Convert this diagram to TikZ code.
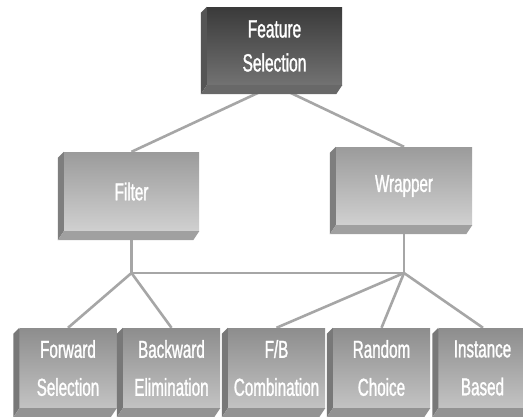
\documentclass[tikz,border=0pt]{standalone}
\usepackage{fontspec}
\setmainfont{Liberation Sans}[FakeStretch=0.62,FakeBold=1.2]
\usetikzlibrary{calc,backgrounds}
\definecolor{linegray}{HTML}{A6A6A6}
\definecolor{darkTop}{HTML}{3A3A3A}
\definecolor{darkBot}{HTML}{727272}
\definecolor{darkSide}{HTML}{555555}
\definecolor{darkStrip}{HTML}{686868}
\definecolor{midTop}{HTML}{9B9B9B}
\definecolor{midBot}{HTML}{D0D0D0}
\definecolor{midSide}{HTML}{7E7E7E}
\definecolor{midStrip}{HTML}{A0A0A0}
\definecolor{lowTop}{HTML}{8D8D8D}
\definecolor{lowBot}{HTML}{C3C3C3}
\definecolor{lowSide}{HTML}{787878}
\definecolor{lowStrip}{HTML}{939393}
\newcommand\boxsides[3]{%
  \fill[#2] (#1.north west) -- ++(-6,6) -- ($(#1.south west)+(-6,9)$) -- (#1.south west) -- cycle;
  \fill[#3] (#1.south west) -- ($(#1.south west)+(-6,9)$) -- ($(#1.south east)+(-6,9)$) -- (#1.south east) -- cycle;}
\begin{document}
\begin{tikzpicture}[x=1pt,y=-1pt,
  conn/.style={draw=linegray,line width=2.6pt},
  face/.style={rectangle,inner sep=0pt,text=white,align=center,font=\fontsize{24.5}{38}\selectfont},
  darkface/.style={face,top color=darkTop,bottom color=darkBot,minimum width=135pt,minimum height=78pt,font=\fontsize{25}{34}\selectfont},
  midface/.style={face,top color=midTop,bottom color=midBot,minimum width=135pt,minimum height=79pt},
  lowface/.style={face,top color=lowTop,bottom color=lowBot,minimum width=97pt,minimum height=80pt}]
\useasboundingbox (0,0) rectangle (523,416);
\clip (0,0) rectangle (523,416);

\node[darkface] (fs) at (274.5,46) {Feature\\Selection};
\boxsides{fs}{darkSide}{darkStrip}

\node[midface] (filter) at (131.5,191.5) {Filter};
\boxsides{filter}{midSide}{midStrip}
\node[midface,minimum width=136pt,minimum height=78pt] (wrap) at (404,186) {Wrapper};
\boxsides{wrap}{midSide}{midStrip}

\node[lowface] (fwd) at (68,368) {Forward\\Selection};
\node[lowface] (bwd) at (171.5,368) {Backward\\Elimination};
\node[lowface] (fb) at (276.5,368) {F/B\\Combination};
\node[lowface] (rnd) at (381.5,368) {Random\\Choice};
\node[lowface] (inst) at (487,368) {\hspace*{-9pt}Instance\\\hspace*{-9pt}Based};
\foreach \n in {fwd,bwd,fb,rnd,inst}{\boxsides{\n}{lowSide}{lowStrip}}

\coordinate (jl) at (131.5,273);
\coordinate (jr) at (404,273);

\begin{scope}[on background layer]
  \fill[white] (0,0) rectangle (523,416);
  \draw[conn] (fs.south) -- (filter.north);
  \draw[conn] (fs.south) -- (wrap.north);
  \draw[conn] (filter.south) -- (jl) -- (jr) -- (wrap.south);
  \draw[conn] (jl) -- (fwd.north);
  \draw[conn] (jl) -- (bwd.north);
  \draw[conn] (jr) -- (fb.north);
  \draw[conn] (jr) -- (rnd.north);
  \draw[conn] (jr) -- ([xshift=-4pt]inst.north);
\end{scope}
\end{tikzpicture}
\end{document}
